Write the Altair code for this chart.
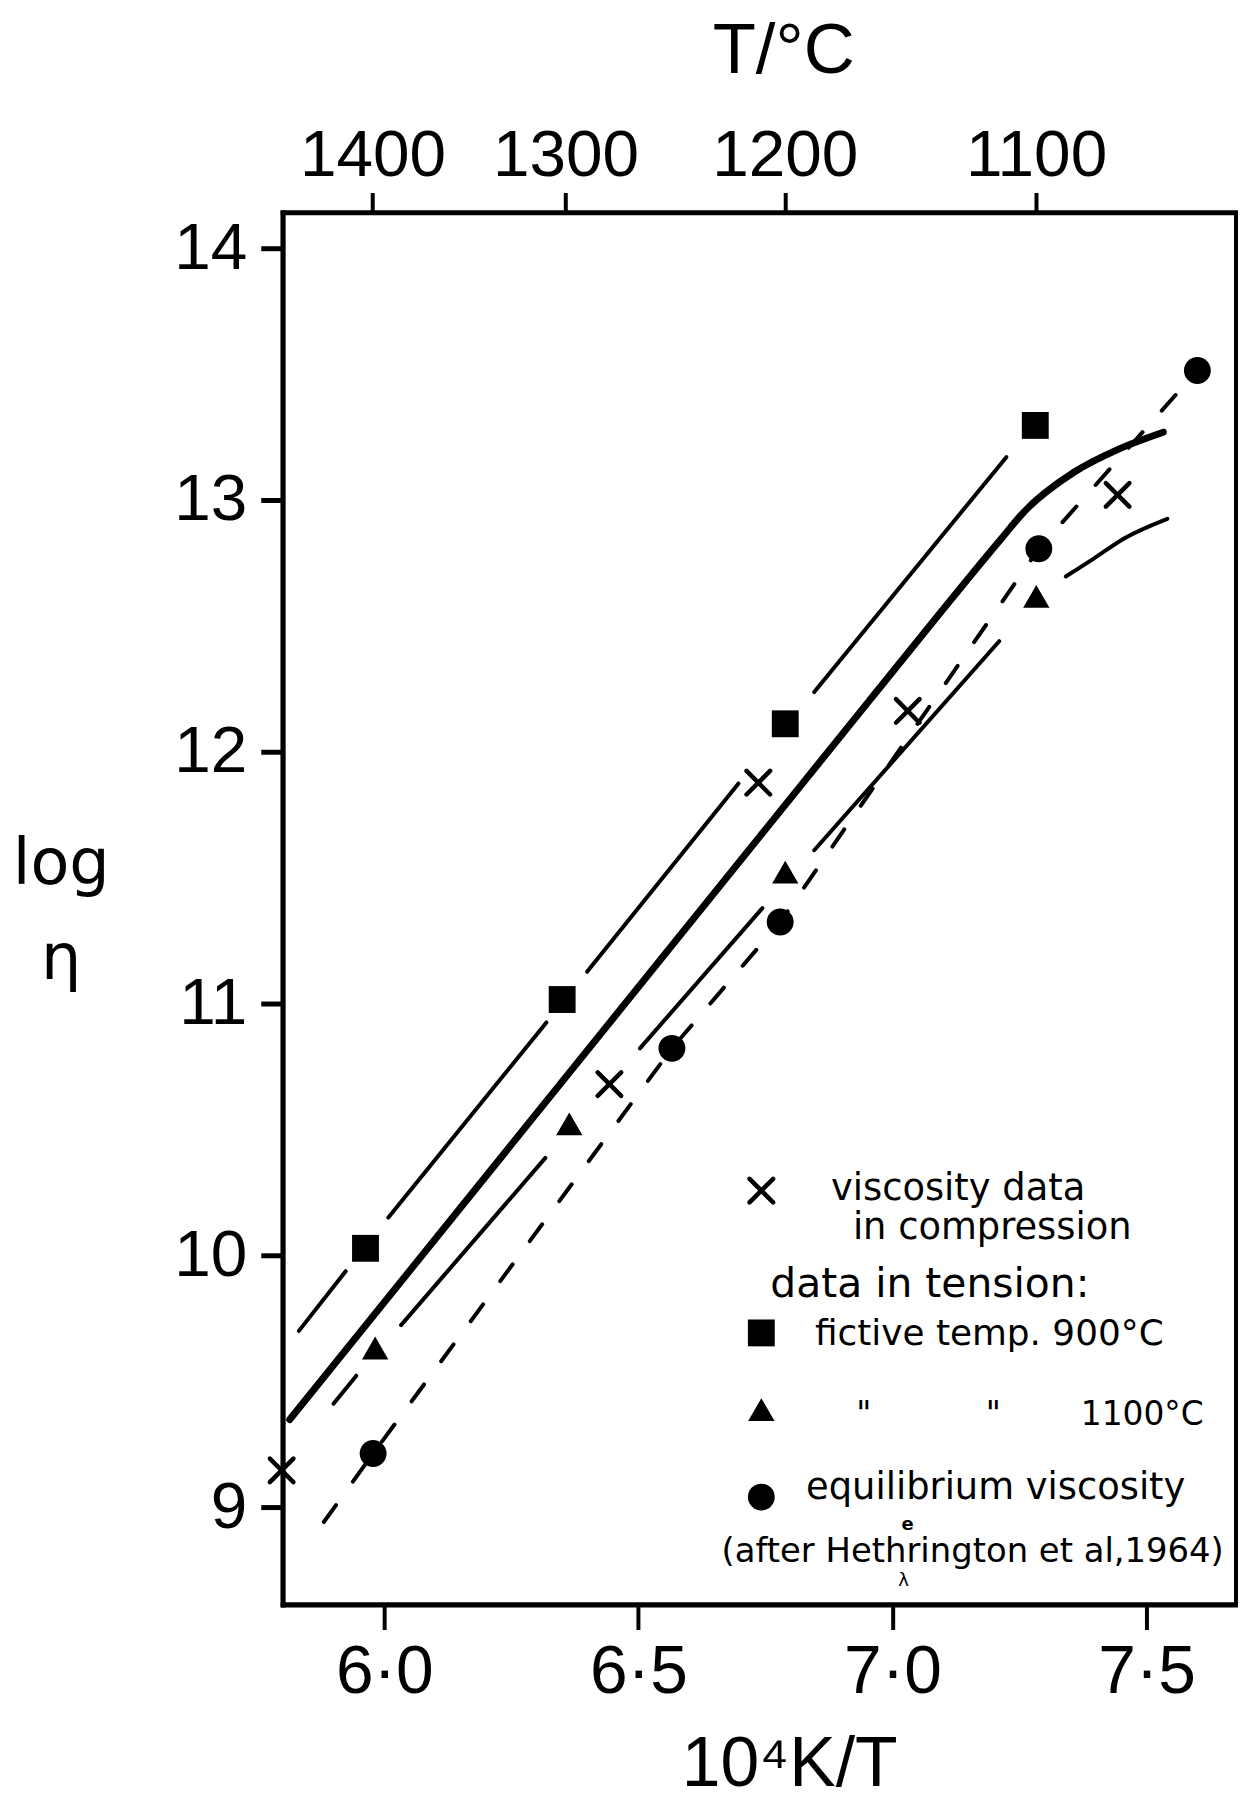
import altair as alt
import pandas as pd

# ---------------- data ----------------
# x = 10^4 K / T ,  y = log(viscosity)
comp_x = [5.798, 6.443, 6.736, 7.030, 7.443]          # viscosity data in compression (x)
comp_y = [9.146, 10.680, 11.877, 12.162, 13.020]
fict900_x = [5.963, 6.350, 6.789, 7.281]              # tension, fictive temp 900 C (squares)
fict900_y = [10.028, 11.016, 12.111, 13.296]
fict1100_x = [5.982, 6.364, 6.789, 7.283]             # tension, fictive temp 1100 C (triangles)
fict1100_y = [9.632, 10.522, 11.522, 12.617]
equil_x = [5.978, 6.566, 6.779, 7.288, 7.600]         # equilibrium viscosity (circles)
equil_y = [9.213, 10.822, 11.324, 12.806, 13.514]

# thick solid curve
thick_x = [5.814, 6.954, 7.214, 7.259, 7.357, 7.443, 7.533]
thick_y = [9.348, 12.202, 12.846, 12.953, 13.110, 13.200, 13.269]
# upper thin line (broken around markers)
upper_x = [5.832, 5.924, 6.008, 6.319, 6.399, 6.697, 6.846, 7.224]
upper_y = [9.700, 9.937, 10.150, 10.925, 11.126, 11.874, 12.237, 13.170]
upper_seg = [0, 0, 1, 1, 2, 2, 3, 3]
# lower thin line (broken around markers, curving at the top)
lower_x = [5.900, 5.945, 6.033, 6.317, 6.503, 6.744, 6.846, 7.210, 7.341, 7.396, 7.455, 7.541]
lower_y = [9.411, 9.522, 9.723, 10.387, 10.822, 11.379, 11.609, 12.439, 12.696, 12.767, 12.846, 12.925]
lower_seg = [0, 0, 1, 1, 2, 2, 3, 3, 4, 4, 4, 4]
# short-dashed line through the equilibrium points
dash_x = [5.881, 5.978, 6.566, 6.779, 7.288, 7.600]
dash_y = [8.941, 9.213, 10.822, 11.324, 12.806, 13.514]

bottom_ticks = [6.0, 6.5, 7.0, 7.5]
left_ticks = [9, 10, 11, 12, 13, 14]
top_temps_C = [1400, 1300, 1200, 1100]
top_ticks = [1e4 / (t + 273.15) for t in top_temps_C]

legend_labels = {
    "comp1": "viscosity data",
    "comp2": "in compression",
    "head": "data in tension:",
    "f900": "fictive temp. 900°C",
    "ditto": '"',
    "f1100": "1100°C",
    "eq1": "equilibrium viscosity",
    "eq2": "(after Hethrington et al,1964)",
    "ins": "e",
    "caret": "λ",
}

# ---------------- layout / style ----------------
W, H = 958, 1399
XDOM = [5.800, 7.676]
YDOM = [8.613, 14.142]
TICK_FONT = "Liberation Sans"
TEXT_FONT = "DejaVu Sans"
X_PATH = "M-1,-1L1,1M-1,1L1,-1"

xs = alt.Scale(domain=XDOM, nice=False, zero=False)
ys = alt.Scale(domain=YDOM, nice=False, zero=False)


def pts(xv, yv, **extra):
    d = {"x": xv, "y": yv}
    d.update(extra)
    return pd.DataFrame(d)


def X(axis=None):
    return alt.X("x:Q", scale=xs, axis=axis)


def Y(axis=None):
    return alt.Y("y:Q", scale=ys, axis=axis)


bottom_axis = alt.Axis(
    orient="bottom", values=bottom_ticks,
    labelExpr="replace(format(datum.value, '.1f'), '.', '·')",
    tickSize=25, tickWidth=4, domainWidth=5, labelPadding=9,
    labelFont=TICK_FONT, labelFontSize=68,
    title="10⁴K/T", titleFont=TICK_FONT, titleFontSize=70,
    titleX=509, titleY=182, titleBaseline="alphabetic", titleAlign="center",
)
left_axis = alt.Axis(
    orient="left", values=left_ticks, format="d",
    tickSize=22, tickWidth=5, domainWidth=5, labelPadding=14,
    labelFont=TICK_FONT, labelFontSize=66,
    title=["log", "η"], titleFont=TEXT_FONT, titleFontSize=64, titleAngle=0,
    titleX=-223, titleY=674, titleBaseline="alphabetic", titleAlign="center",
    titleLineHeight=96,
)
top_axis = alt.Axis(
    orient="top", values=top_ticks,
    labelExpr="format(10000 / datum.value - 273.15, '.0f')",
    tickSize=20, tickWidth=4, domainWidth=5, labelPadding=3,
    labelFont=TICK_FONT, labelFontSize=66,
    title="T/°C", titleFont=TICK_FONT, titleFontSize=71,
    titleX=503, titleY=-141, titleBaseline="alphabetic", titleAlign="center",
)

# ---------------- lines ----------------
thick = alt.Chart(pts(thick_x, thick_y, i=list(range(len(thick_x))))).mark_line(
    color="black", strokeWidth=7, strokeCap="round", interpolate="monotone"
).encode(x=X(bottom_axis), y=Y(left_axis), order="i:Q")

upper = alt.Chart(pts(upper_x, upper_y, seg=upper_seg, i=list(range(len(upper_x))))).mark_line(
    color="black", strokeWidth=4, strokeCap="round"
).encode(x=X(), y=Y(), detail="seg:N", order="i:Q")

lower = alt.Chart(pts(lower_x, lower_y, seg=lower_seg, i=list(range(len(lower_x))))).mark_line(
    color="black", strokeWidth=4, strokeCap="round", interpolate="monotone"
).encode(x=X(), y=Y(), detail="seg:N", order="i:Q")

dashed = alt.Chart(pts(dash_x, dash_y, i=list(range(len(dash_x))))).mark_line(
    color="black", strokeWidth=4, strokeDash=[21, 29], strokeCap="round"
).encode(x=X(), y=Y(), order="i:Q")

top_layer = alt.Chart(pd.DataFrame({"x": top_ticks})).mark_point(opacity=0).encode(
    x=X(top_axis), y=alt.value(0)
)

# ---------------- markers ----------------
squares = alt.Chart(pts(fict900_x, fict900_y)).mark_point(
    shape="square", filled=True, size=729, color="black", opacity=1
).encode(x=X(), y=Y())
triangles = alt.Chart(pts(fict1100_x, fict1100_y)).mark_point(
    shape="triangle-up", filled=True, size=700, color="black", opacity=1
).encode(x=X(), y=Y())
circles = alt.Chart(pts(equil_x, equil_y)).mark_point(
    shape="circle", filled=True, size=729, color="black", opacity=1
).encode(x=X(), y=Y())
crosses = alt.Chart(pts(comp_x, comp_y)).mark_point(
    shape=X_PATH, filled=False, size=560, color="black", strokeWidth=4.5,
    strokeCap="round", opacity=1
).encode(x=X(), y=Y())

# ---------------- legend (pixel positions inside the plot) ----------------
one = pd.DataFrame({"a": [0]})


def sym(shape, px, py, size, filled=True):
    kw = dict(shape=shape, filled=filled, size=size, color="black", opacity=1)
    if not filled:
        kw.update(strokeWidth=4.5, strokeCap="round")
    return alt.Chart(one).mark_point(**kw).encode(x=alt.value(px), y=alt.value(py))


def txt(label, px, py, size, align="left", baseline="alphabetic", weight="normal"):
    return alt.Chart(one).mark_text(
        text=label, font=TEXT_FONT, fontSize=size, color="black",
        align=align, baseline=baseline, fontWeight=weight
    ).encode(x=alt.value(px), y=alt.value(py))


legend = [
    sym(X_PATH, 481, 983, 560, filled=False),
    txt(legend_labels["comp1"], 551, 992, 37),
    txt(legend_labels["comp2"], 573, 1032, 37),
    txt(legend_labels["head"], 490, 1090, 41),
    sym("square", 481, 1126, 729),
    txt(legend_labels["f900"], 535, 1138, 36),
    sym("triangle-up", 481, 1203, 700),
    txt(legend_labels["ditto"], 584, 1219, 33, align="center"),
    txt(legend_labels["ditto"], 714, 1219, 33, align="center"),
    txt(legend_labels["f1100"], 802, 1219, 33),
    sym("circle", 481, 1291, 729),
    txt(legend_labels["eq1"], 526, 1293, 37),
    txt(legend_labels["eq2"], 441, 1356, 34),
    txt(legend_labels["ins"], 628, 1319, 18, align="center", baseline="middle", weight="bold"),
    txt(legend_labels["caret"], 624, 1375, 18, align="center", baseline="middle"),
]

chart = alt.layer(
    thick, upper, lower, dashed, top_layer,
    squares, triangles, circles, crosses, *legend
).resolve_axis(x="independent", y="independent").properties(
    width=W, height=H,
    autosize=alt.AutoSizeParams(type="none"),
    padding={"left": 276, "top": 201, "right": 2, "bottom": 197},
).configure_view(
    stroke="black", strokeWidth=4
).configure_axis(
    grid=False, domainColor="black", tickColor="black", labelColor="black",
    titleColor="black", titleFontWeight="normal", domainCap="square"
)

chart.save("out.html", embed_options={"renderer": "svg", "actions": False})
